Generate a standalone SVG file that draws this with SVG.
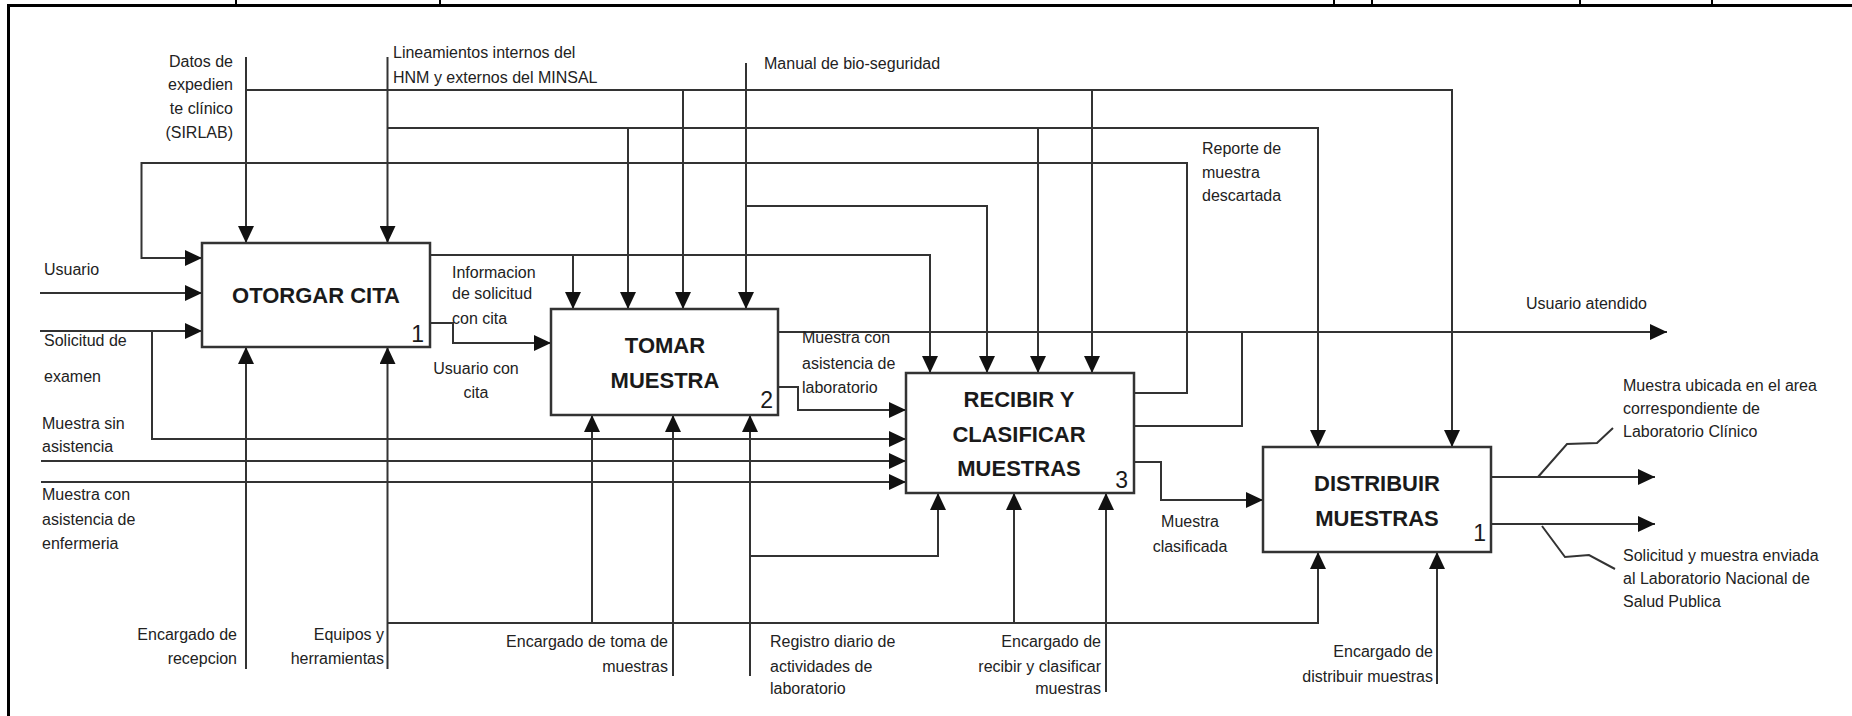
<svg xmlns="http://www.w3.org/2000/svg" width="1852" height="716" viewBox="0 0 1852 716">
<style>
.frame{stroke:#000;stroke-width:3;fill:none}
.div{stroke:#000;stroke-width:2;fill:none}
.box{fill:#fff;stroke:#333;stroke-width:2.5}
.ln{fill:none;stroke:#333;stroke-width:2}
.lbl{font-family:"Liberation Sans",Arial,sans-serif;font-size:16px;fill:#222}
.end{text-anchor:end}
.mid{text-anchor:middle}
.title{font-family:"Liberation Sans",Arial,sans-serif;font-size:22px;font-weight:bold;fill:#1a1a1a;text-anchor:middle}
.num{font-family:"Liberation Sans",Arial,sans-serif;font-size:23px;fill:#1a1a1a;text-anchor:end}
</style>
<defs>
<marker id="ah" viewBox="0 0 17 16" refX="17" refY="8" markerWidth="17" markerHeight="16" markerUnits="userSpaceOnUse" orient="auto">
<path d="M0,0 L17,8 L0,16 Z" fill="#111"/>
</marker>
</defs>
<rect width="1852" height="716" fill="#fff"/>
<g id="frame">
<line class="frame" x1="7" y1="5.5" x2="1852" y2="5.5"/>
<line class="frame" x1="8.5" y1="4" x2="8.5" y2="716"/>
<line class="div" x1="236" y1="0" x2="236" y2="5"/>
<line class="div" x1="440" y1="0" x2="440" y2="5"/>
<line class="div" x1="1334" y1="0" x2="1334" y2="5"/>
<line class="div" x1="1372" y1="0" x2="1372" y2="5"/>
<line class="div" x1="1580" y1="0" x2="1580" y2="5"/>
<line class="div" x1="1712" y1="0" x2="1712" y2="5"/>
</g>
<g id="connectors">
<!-- controls -->
<path class="ln" d="M246,57 V243" marker-end="url(#ah)"/>
<path class="ln" d="M246,90 H1452 V447" marker-end="url(#ah)"/>
<path class="ln" d="M683,90 V309" marker-end="url(#ah)"/>
<path class="ln" d="M1092,90 V373" marker-end="url(#ah)"/>
<path class="ln" d="M387.5,57 V243" marker-end="url(#ah)"/>
<path class="ln" d="M387.5,128 H1318 V447" marker-end="url(#ah)"/>
<path class="ln" d="M628,128 V309" marker-end="url(#ah)"/>
<path class="ln" d="M1038,128 V373" marker-end="url(#ah)"/>
<path class="ln" d="M746,63 V309" marker-end="url(#ah)"/>
<path class="ln" d="M746,206 H987 V373" marker-end="url(#ah)"/>
<!-- feedback -->
<path class="ln" d="M1134,393 H1187 V163 H141.5 V258 H202" marker-end="url(#ah)"/>
<!-- outputs of 1 -->
<path class="ln" d="M430,255 H930 V373" marker-end="url(#ah)"/>
<path class="ln" d="M573,255 V309" marker-end="url(#ah)"/>
<path class="ln" d="M430,323 H453 V343 H551" marker-end="url(#ah)"/>
<!-- usuario atendido -->
<path class="ln" d="M778,332 H1667" marker-end="url(#ah)"/>
<path class="ln" d="M1134,426 H1242 V332"/>
<!-- muestra con asistencia de laboratorio -->
<path class="ln" d="M778,387 H798 V410 H906" marker-end="url(#ah)"/>
<!-- inputs -->
<path class="ln" d="M40,293 H202" marker-end="url(#ah)"/>
<path class="ln" d="M40,331 H202" marker-end="url(#ah)"/>
<path class="ln" d="M152,331 V439 H906" marker-end="url(#ah)"/>
<path class="ln" d="M41,461 H906" marker-end="url(#ah)"/>
<path class="ln" d="M41,482 H906" marker-end="url(#ah)"/>
<!-- muestra clasificada -->
<path class="ln" d="M1134,462 H1161 V500 H1263" marker-end="url(#ah)"/>
<!-- outputs of distribuir -->
<path class="ln" d="M1491,477 H1655" marker-end="url(#ah)"/>
<path class="ln" d="M1491,524 H1655" marker-end="url(#ah)"/>
<path class="ln" d="M1538,477 L1567,444 L1597,443 L1613,428" stroke-width="1.5"/>
<path class="ln" d="M1542,526 L1565,557 L1589,555 L1615,569" stroke-width="1.5"/>
<!-- mechanisms -->
<path class="ln" d="M246,669 V347" marker-end="url(#ah)"/>
<path class="ln" d="M387.5,669 V347" marker-end="url(#ah)"/>
<path class="ln" d="M387.5,623 H1318 V552" marker-end="url(#ah)"/>
<path class="ln" d="M592,623 V415" marker-end="url(#ah)"/>
<path class="ln" d="M1014,623 V493" marker-end="url(#ah)"/>
<path class="ln" d="M673,676 V415" marker-end="url(#ah)"/>
<path class="ln" d="M750,676 V415" marker-end="url(#ah)"/>
<path class="ln" d="M750,556 H938 V493" marker-end="url(#ah)"/>
<path class="ln" d="M1106,692 V493" marker-end="url(#ah)"/>
<path class="ln" d="M1437,684 V552" marker-end="url(#ah)"/>
</g>
<g id="node-otorgar-cita">
<rect class="box" x="202" y="243" width="228" height="104"/>
<text class="title" x="316" y="303">OTORGAR CITA</text>
<text class="num" x="424" y="342">1</text>
</g>
<g id="node-tomar-muestra">
<rect class="box" x="551" y="309" width="227" height="106"/>
<text class="title" x="665" y="353">TOMAR</text>
<text class="title" x="665" y="388">MUESTRA</text>
<text class="num" x="773" y="408">2</text>
</g>
<g id="node-recibir-clasificar">
<rect class="box" x="906" y="373" width="228" height="120"/>
<text class="title" x="1019" y="407">RECIBIR Y</text>
<text class="title" x="1019" y="442">CLASIFICAR</text>
<text class="title" x="1019" y="476">MUESTRAS</text>
<text class="num" x="1128" y="488">3</text>
</g>
<g id="node-distribuir">
<rect class="box" x="1263" y="447" width="228" height="105"/>
<text class="title" x="1377" y="491">DISTRIBUIR</text>
<text class="title" x="1377" y="526">MUESTRAS</text>
<text class="num" x="1486" y="541">1</text>
</g>
<g id="labels">
<text class="lbl end" x="233" y="67">Datos de</text>
<text class="lbl end" x="233" y="90">expedien</text>
<text class="lbl end" x="233" y="114">te clínico</text>
<text class="lbl end" x="233" y="138">(SIRLAB)</text>
<text class="lbl" x="393" y="58">Lineamientos internos del</text>
<text class="lbl" x="393" y="83">HNM y externos del MINSAL</text>
<text class="lbl" x="764" y="69">Manual de bio-seguridad</text>
<text class="lbl" x="1202" y="154">Reporte de</text>
<text class="lbl" x="1202" y="178">muestra</text>
<text class="lbl" x="1202" y="201">descartada</text>
<text class="lbl" x="44" y="275">Usuario</text>
<text class="lbl" x="44" y="346">Solicitud de</text>
<text class="lbl" x="44" y="382">examen</text>
<text class="lbl" x="42" y="429">Muestra sin</text>
<text class="lbl" x="42" y="452">asistencia</text>
<text class="lbl" x="42" y="500">Muestra con</text>
<text class="lbl" x="42" y="525">asistencia de</text>
<text class="lbl" x="42" y="549">enfermeria</text>
<text class="lbl" x="452" y="278">Informacion</text>
<text class="lbl" x="452" y="299">de solicitud</text>
<text class="lbl" x="452" y="324">con cita</text>
<text class="lbl mid" x="476" y="374">Usuario con</text>
<text class="lbl mid" x="476" y="398">cita</text>
<text class="lbl" x="802" y="343">Muestra con</text>
<text class="lbl" x="802" y="369">asistencia de</text>
<text class="lbl" x="802" y="393">laboratorio</text>
<text class="lbl" x="1526" y="309">Usuario atendido</text>
<text class="lbl mid" x="1190" y="527">Muestra</text>
<text class="lbl mid" x="1190" y="552">clasificada</text>
<text class="lbl" x="1623" y="391">Muestra ubicada en el area</text>
<text class="lbl" x="1623" y="414">correspondiente de</text>
<text class="lbl" x="1623" y="437">Laboratorio Clínico</text>
<text class="lbl" x="1623" y="561">Solicitud y muestra enviada</text>
<text class="lbl" x="1623" y="584">al Laboratorio Nacional de</text>
<text class="lbl" x="1623" y="607">Salud Publica</text>
<text class="lbl end" x="237" y="640">Encargado de</text>
<text class="lbl end" x="237" y="664">recepcion</text>
<text class="lbl end" x="384" y="640">Equipos y</text>
<text class="lbl end" x="384" y="664">herramientas</text>
<text class="lbl end" x="668" y="647">Encargado de toma de</text>
<text class="lbl end" x="668" y="672">muestras</text>
<text class="lbl" x="770" y="647">Registro diario de</text>
<text class="lbl" x="770" y="672">actividades de</text>
<text class="lbl" x="770" y="694">laboratorio</text>
<text class="lbl end" x="1101" y="647">Encargado de</text>
<text class="lbl end" x="1101" y="672">recibir y clasificar</text>
<text class="lbl end" x="1101" y="694">muestras</text>
<text class="lbl end" x="1433" y="657">Encargado de</text>
<text class="lbl end" x="1433" y="682">distribuir muestras</text>
</g>
</svg>
